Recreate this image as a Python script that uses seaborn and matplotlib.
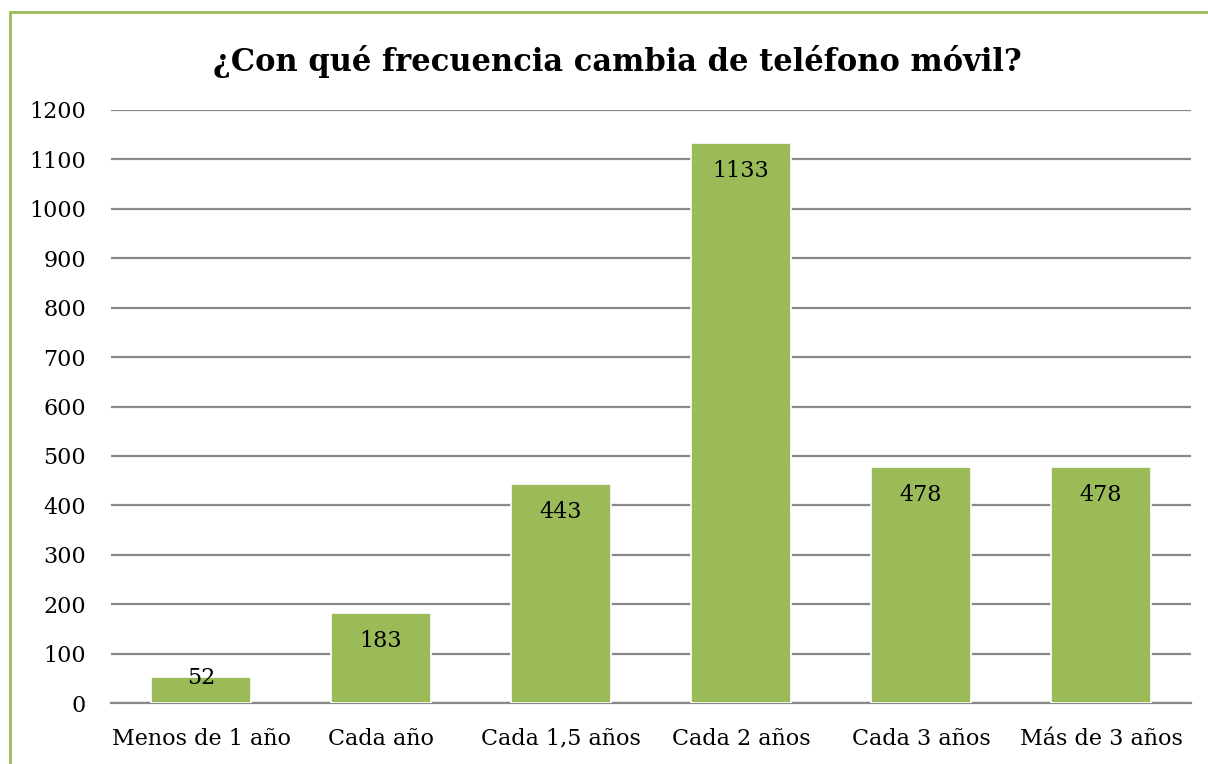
import matplotlib
matplotlib.use("Agg")
import matplotlib.pyplot as plt
import matplotlib.patches as mpatches
import seaborn as sns
import pandas as pd

# --- Data ---
categories = ["Menos de 1 año", "Cada año", "Cada 1,5 años", "Cada 2 años", "Cada 3 años", "Más de 3 años"]
respuestas = [52, 183, 443, 1133, 478, 478]
y_ticks = list(range(0, 1300, 100))
title = "¿Con qué frecuencia cambia de teléfono móvil?"

df = pd.DataFrame({"categoria": categories, "respuestas": respuestas})

sns.set_style("white")
plt.rcParams['font.family'] = ['DejaVu Serif', 'DejaVu Sans']

fig = plt.figure(figsize=(12.08, 7.64), dpi=100)
ax = fig.add_axes([111 / 1208, 1 - 703 / 764, 1080 / 1208, 593 / 764])

green = "#9BBB59"
sns.barplot(data=df, x="categoria", y="respuestas", color=green, width=0.56,
            saturation=1, edgecolor="white", linewidth=1.2, ax=ax, zorder=3)

ax.set_ylim(0, 1200)
ax.set_xlim(-0.5, len(categories) - 0.5)
ax.set_yticks(y_ticks)
ax.yaxis.grid(True, color="#888888", linewidth=1.6, zorder=0)
ax.set_axisbelow(True)
for s in ["top", "right", "left"]:
    ax.spines[s].set_visible(False)
ax.spines["bottom"].set_color("#888888")
ax.spines["bottom"].set_linewidth(1.6)
ax.tick_params(axis="both", length=0, labelsize=16, colors="black")
ax.tick_params(axis="y", pad=18)
ax.tick_params(axis="x", pad=30)
for lbl in ax.get_xticklabels():
    lbl.set_va("baseline")
ax.set_xlabel("")
ax.set_ylabel("")

# value labels near the top of each bar
for i, v in enumerate(respuestas):
    off = -28 if v > 100 else -1
    ax.annotate(str(v), (i, v), xytext=(0, off * 0.72), textcoords="offset points",
                ha="center", va="center", fontsize=16, color="black", zorder=5)

fig.text(617 / 1208, 1 - 61 / 764, title, ha="center", va="center",
         fontsize=22, fontweight="bold", color="black")

# green chart frame
frame = mpatches.Rectangle((10 / 1208, -0.05), 1.1, 1 - 12 / 764 + 0.05,
                           transform=fig.transFigure, fill=False,
                           edgecolor=green, linewidth=2)
fig.patches.append(frame)

fig.savefig("out.png", dpi=100, facecolor="white")
